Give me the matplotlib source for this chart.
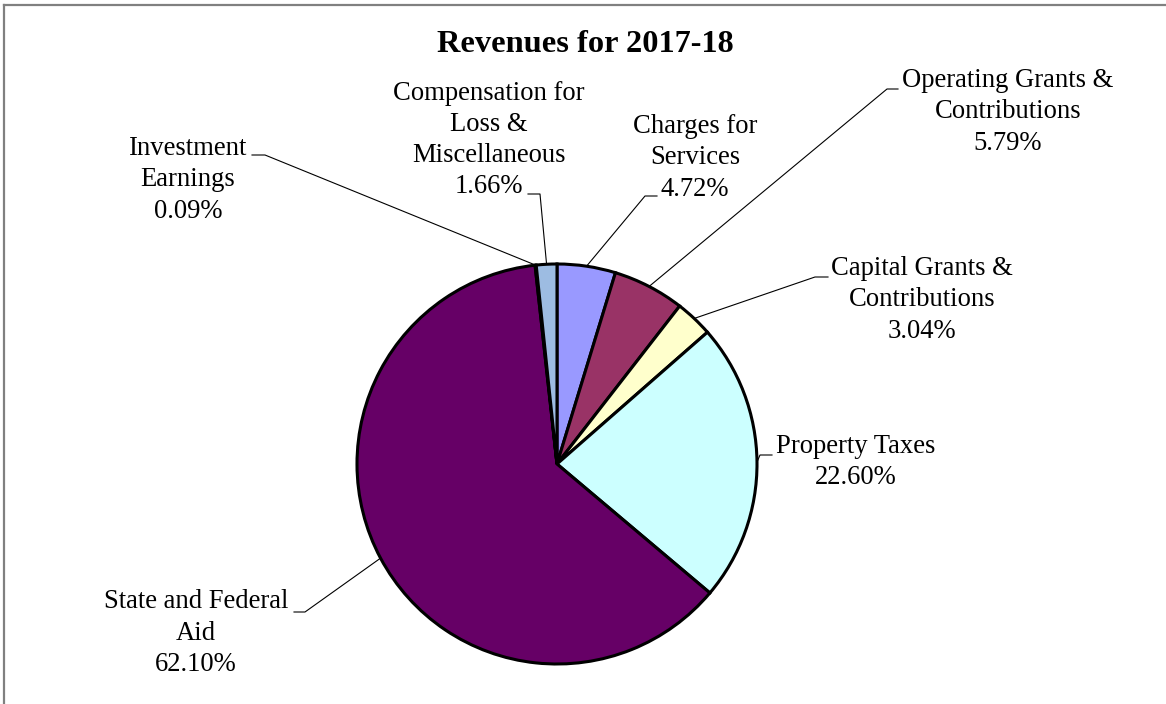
import matplotlib.pyplot as plt
from matplotlib.lines import Line2D
import numpy as np

plt.rcParams['font.family'] = ['Liberation Serif', 'DejaVu Serif']

# slices, clockwise from 12 o'clock
names = ['Charges for\nServices', 'Operating Grants &\nContributions',
         'Capital Grants &\nContributions', 'Property Taxes',
         'State and Federal\nAid', 'Investment\nEarnings',
         'Compensation for\nLoss &\nMiscellaneous']
shares = [4.72, 5.79, 3.04, 22.60, 62.10, 0.09, 1.66]
colors = ['#9999FF', '#993366', '#FFFFCC', '#CCFFFF', '#660066', '#FF8080', '#9DBCE2']

# label layout in pixels (image coords, y down): text centre, stub start/elbow x, stub y
text_pos = [(695, 158), (1008, 112), (922, 300), (856, 462), (196, 633), (188, 180), (489, 140)]
stubs = [(657, 645, 196), (898, 887, 89), (828, 815, 277), (772, 760, 455),
         (294, 305, 612), (252, 265, 155), (528, 540, 194)]

W, H = 1166, 704
cx, cy, r = 557, H - 464, 200

fig = plt.figure(figsize=(W / 100, H / 100), dpi=100)
ax = fig.add_axes([0, 0, 1, 1])
wedges, _ = ax.pie(shares, colors=colors, startangle=90, counterclock=False,
                   center=(cx, cy), radius=r,
                   wedgeprops=dict(edgecolor='black', linewidth=2.2))
ax.set_xlim(0, W)
ax.set_ylim(0, H)
ax.set_aspect('equal')
ax.axis('off')

for w, name, v, (tx, ty), (x1, x2, sy) in zip(wedges, names, shares, text_pos, stubs):
    ang = np.deg2rad((w.theta1 + w.theta2) / 2)
    ex, ey = cx + r * np.cos(ang), cy + r * np.sin(ang)
    ax.plot([x1, x2, ex], [H - sy, H - sy, ey], color='black', lw=0.8)
    ax.text(tx, H - ty, f'{name}\n{v:.2f}%', ha='center', va='center',
            fontsize=19.2, linespacing=1.32)

fig.text(585 / W, 1 - 44 / H, 'Revenues for 2017-18', ha='center', va='center',
         fontsize=23.3, weight='bold')

# grey frame (top and left only visible)
fig.add_artist(Line2D([4 / W, 1], [1 - 5 / H, 1 - 5 / H], color='#808080', lw=1.6))
fig.add_artist(Line2D([4 / W, 4 / W], [0, 1 - 5 / H], color='#808080', lw=1.6))

fig.savefig('out.png', dpi=100, facecolor='white')
